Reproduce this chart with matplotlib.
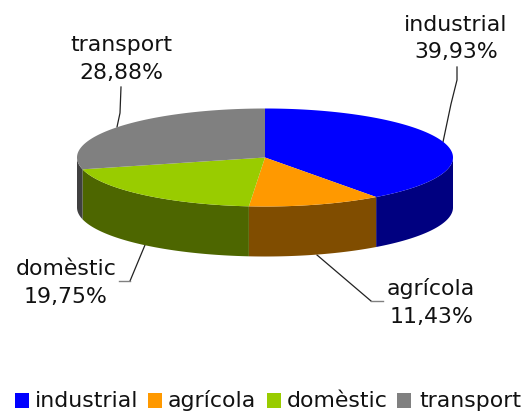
import numpy as np
import matplotlib
matplotlib.use("Agg")
import matplotlib.pyplot as plt

categories = ["industrial", "agrícola", "domèstic", "transport"]
shares = [39.93, 11.43, 19.75, 28.88]
share_labels = ["39,93%", "11,43%", "19,75%", "28,88%"]
top_colors = ["#0000FF", "#FF9900", "#99CC00", "#808080"]
side_colors = ["#000080", "#804D00", "#4D6600", "#404040"]

W, H = 527, 412
CX, CY, RX, RY, DEPTH = 265, 157.5, 188, 49, 50

fig = plt.figure(figsize=(W / 100, H / 100), dpi=100)
ax = fig.add_axes([0, 0, 1, 1])
ax.set_xlim(0, W)
ax.set_ylim(H, 0)
ax.axis("off")


def rim(a0, a1):
    t = np.radians(np.linspace(a0, a1, 200))
    return CX + RX * np.sin(t), CY + RY * -np.cos(t)


edges = np.concatenate([[0], np.cumsum(shares)]) / sum(shares) * 360
for i in range(len(shares)):
    a0, a1 = max(edges[i], 90), min(edges[i + 1], 270)
    if a1 > a0:
        x, y = rim(a0, a1)
        ax.fill(np.r_[x, x[::-1]], np.r_[y, y[::-1] + DEPTH],
                color=side_colors[i], lw=0, zorder=2)
for i in range(len(shares)):
    x, y = rim(edges[i], edges[i + 1])
    ax.fill(np.r_[CX, x], np.r_[CY, y], color=top_colors[i], lw=0, zorder=3)

leaders = {
    "industrial": ([443, 451, 457, 457], [142, 104, 80, 67]),
    "agrícola": ([317, 371], [255, 301]),
    "domèstic": ([145, 130], [245, 281]),
    "transport": ([117, 120, 121], [127, 113, 87]),
}
ticks = {"agrícola": ([371, 383], [301, 301]), "domèstic": ([130, 119], [281, 281])}
for c in categories:
    ax.plot(*leaders[c], color="#222222", lw=0.9, zorder=1)
    if c in ticks:
        ax.plot(*ticks[c], color="#808080", lw=1.0, zorder=1)

FS = 15.8
label_x = {"industrial": 456, "agrícola": 431, "domèstic": 66, "transport": 121}
label_y = {"industrial": (31, 58), "agrícola": (295, 323), "domèstic": (275, 303), "transport": (51, 79)}
for c, s in zip(categories, share_labels):
    for txt, y in zip((c, s), label_y[c]):
        ax.text(label_x[c], y, txt, fontsize=FS, family="DejaVu Sans", color="#111111",
                ha="center", va="baseline")

legend_x = [15, 148, 267, 397]
text_x = [35, 168, 287, 419]
for c, col, lx, tx in zip(categories, top_colors, legend_x, text_x):
    ax.fill([lx, lx + 14, lx + 14, lx], [393, 393, 408, 408], color=col, lw=0)
    ax.text(tx, 407, c, fontsize=FS, family="DejaVu Sans", va="baseline", ha="left", color="#111111")

fig.savefig("out.png", dpi=100)
